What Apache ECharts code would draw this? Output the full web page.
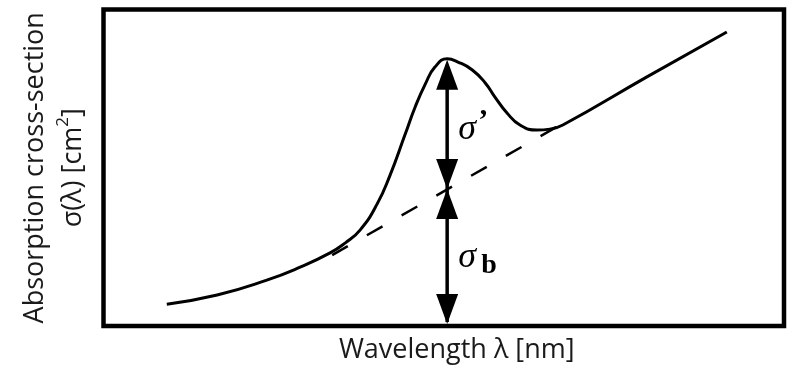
<!DOCTYPE html>
<html>
<head>
<meta charset="utf-8">
<script src="https://cdn.jsdelivr.net/npm/echarts@6/dist/echarts.min.js"></script>
<style>
  html, body { margin: 0; padding: 0; background: #fff; }
  #chart { width: 787px; height: 365px; }
</style>
</head>
<body>
<div id="chart"></div>
<script>
// Absorption spectrum: total cross-section with a resonance peak on a rising background
const curveX = [9.3, 16.7, 24.0, 28.9, 33.3, 35.5, 37.7, 40.2, 42.1, 44.3, 45.8, 47.3, 48.7, 50.5, 52.1, 54.2, 56.1, 57.5, 59.3, 61.2, 63.7, 65.6, 67.5, 79.6, 91.6];
const curveY = [6.9, 9.8, 14.5, 18.6, 23.1, 26.2, 30.3, 38.5, 47.6, 60.4, 69.2, 76.5, 81.8, 84.4, 83.4, 80.9, 76.8, 72.4, 67.3, 63.5, 61.9, 62.2, 63.5, 78.4, 92.9];

// Background (non-resonant) contribution under the peak
const backgroundX = [33.6, 66.6];
const backgroundY = [22.4, 62.9];

// Wavelength of the peak, total cross-section there, and background level there
const peakX = 50.5;
const peakTotal = 84.4;
const peakBackground = 43.3;

const textColor = '#1a1a1a';
const uiFont = '"Open Sans", "DejaVu Sans", sans-serif';
const mathFont = '"Liberation Serif", "DejaVu Serif", serif';

const chart = echarts.init(document.getElementById('chart'), null, { renderer: 'canvas' });

chart.setOption({
  animation: false,
  backgroundColor: '#fff',
  grid: {
    left: 103.5, right: 3, top: 9.5, bottom: 39,
    show: true,
    borderColor: '#000',
    borderWidth: 4.5,
    backgroundColor: '#fff',
    containLabel: false,
    outerBoundsMode: 'none'
  },
  xAxis: {
    type: 'value', min: 0, max: 100,
    axisLine: { show: false }, axisTick: { show: false },
    axisLabel: { show: false }, splitLine: { show: false },
    name: 'Wavelength λ [nm]',
    nameLocation: 'middle',
    nameGap: 11,
    nameTextStyle: {
      fontFamily: uiFont, fontSize: 27, color: textColor,
      padding: [0, 0, 0, 26]
    }
  },
  yAxis: {
    type: 'value', min: 0, max: 100,
    axisLine: { show: false }, axisTick: { show: false },
    axisLabel: { show: false }, splitLine: { show: false },
    name: '{a|Absorption cross-section}\n{a|σ(λ) [cm}{s|2}{a|]}',
    nameLocation: 'middle',
    nameRotate: 90,
    nameGap: 11,
    nameTextStyle: {
      rich: {
        a: { fontFamily: uiFont, fontSize: 27, color: textColor, lineHeight: 38 },
        s: { fontFamily: uiFont, fontSize: 17, color: textColor, lineHeight: 24, verticalAlign: 'top' }
      }
    }
  },
  series: [
    {
      name: 'total',
      type: 'line',
      smooth: 0.5,
      showSymbol: false,
      data: curveX.map((x, i) => [x, curveY[i]]),
      lineStyle: { color: '#000', width: 3 },
      z: 3
    },
    {
      name: 'background',
      type: 'line',
      showSymbol: false,
      data: backgroundX.map((x, i) => [x, backgroundY[i]]),
      lineStyle: { color: '#000', width: 2.5, type: [18, 22] },
      z: 2
    },
    {
      name: 'arrows',
      type: 'custom',
      data: [[peakX, peakTotal, peakBackground]],
      z: 4,
      renderItem: function (params, api) {
        const x = api.value(0);
        const pTop = api.coord([x, api.value(1)]);
        const pMid = api.coord([x, api.value(2)]);
        const pBot = api.coord([x, 0]);
        const L = 30, W = 11;
        const tri = (tip, dir) => ({
          type: 'polygon',
          shape: { points: [[tip[0], tip[1]], [tip[0] - W, tip[1] + dir * L], [tip[0] + W, tip[1] + dir * L]] },
          style: { fill: '#000' }
        });
        const txt = (t, dx, y, font) => ({
          type: 'text', x: pTop[0] + dx, y: y,
          style: { text: t, font: font, fill: '#000', align: 'left', verticalAlign: 'middle' }
        });
        const upperMid = (pTop[1] + pMid[1]) / 2;
        const lowerMid = (pMid[1] + pBot[1]) / 2;
        return {
          type: 'group',
          children: [
            { type: 'line', shape: { x1: pTop[0], y1: pTop[1] + 6, x2: pBot[0], y2: pBot[1] - 4 },
              style: { stroke: '#000', lineWidth: 3.5 } },
            tri([pTop[0], pTop[1] + 1], 1),
            tri(pMid, -1),
            tri(pMid, 1),
            tri([pBot[0], pBot[1] - 2], -1),
            txt('σ', 11, upperMid + 6, 'italic 36px ' + mathFont),
            txt('\u2019', 31, upperMid - 3, 'bold 30px ' + mathFont),
            txt('σ', 11, lowerMid + 0.5, 'italic 36px ' + mathFont),
            txt('b', 34, lowerMid + 8.5, 'bold 28px ' + mathFont)
          ]
        };
      }
    }
  ]
});
</script>
</body>
</html>
